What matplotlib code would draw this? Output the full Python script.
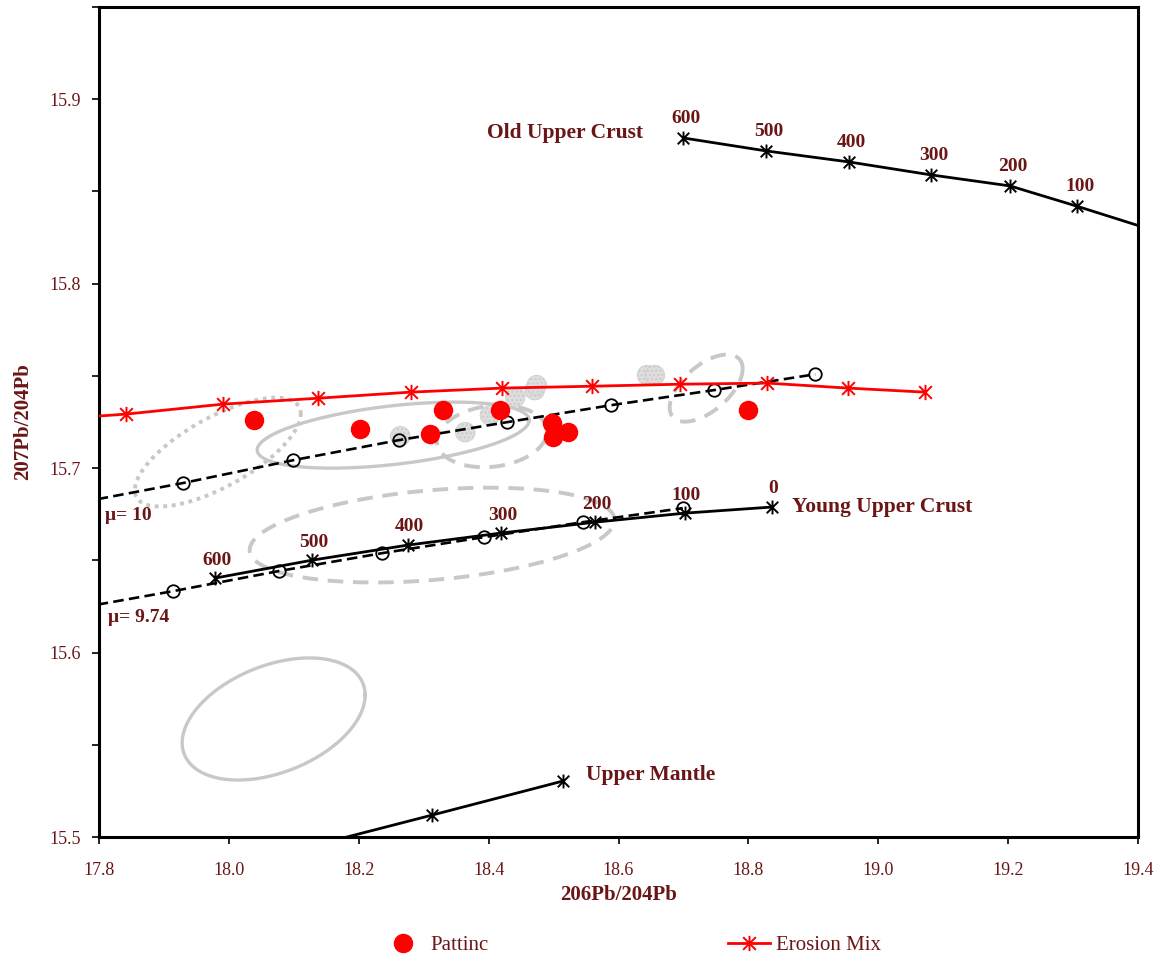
import numpy as np
import matplotlib.pyplot as plt
from matplotlib.path import Path

# Pb isotope data: 206Pb/204Pb (x) vs 207Pb/204Pb (y)
old_crust_x = [18.70, 18.827, 18.955, 19.081, 19.203, 19.306, 19.45]
old_crust_y = [15.879, 15.872, 15.866, 15.859, 15.853, 15.842, 15.826]
old_crust_age = ['600', '500', '400', '300', '200', '100']

young_crust_x = [17.979, 18.128, 18.276, 18.419, 18.564, 18.702, 18.836]
young_crust_y = [15.6404, 15.6501, 15.6583, 15.6648, 15.6707, 15.6756, 15.6789]
young_crust_age = ['600', '500', '400', '300', '200', '100', '0']

mantle_x = [18.11, 18.313, 18.515]
mantle_y = [15.4935, 15.5119, 15.5304]

mu10_x = [17.75, 17.929, 18.099, 18.262, 18.428, 18.588, 18.747, 18.903]
mu10_y = [15.6800, 15.6919, 15.7043, 15.7152, 15.7249, 15.7341, 15.7423, 15.7509]

mu974_x = [17.75, 17.914, 18.077, 18.236, 18.393, 18.545, 18.699]
mu974_y = [15.6230, 15.6333, 15.6442, 15.6539, 15.6626, 15.6707, 15.6783]

erosion_x = [17.75, 17.842, 17.991, 18.137, 18.280, 18.421, 18.559, 18.695, 18.829, 18.953, 19.072]
erosion_y = [15.7270, 15.7293, 15.7347, 15.7379, 15.7412, 15.7434, 15.7444, 15.7455, 15.7461, 15.7434, 15.7412]

pattinc_x = [18.039, 18.202, 18.310, 18.330, 18.418, 18.498, 18.499, 18.522, 18.799]
pattinc_y = [15.7260, 15.7211, 15.7184, 15.7314, 15.7314, 15.7244, 15.7168, 15.7195, 15.7314]

other_x = [18.264, 18.364, 18.402, 18.441, 18.471, 18.474, 18.644, 18.656]
other_y = [15.7173, 15.7195, 15.7287, 15.7385, 15.7423, 15.7450, 15.7504, 15.7504]

# fields: centre x, centre y, half-width x, half-height y, correlation, line style
field_cx = [18.253, 17.983, 18.313, 18.405, 18.735, 18.069]
field_cy = [15.7179, 15.7087, 15.6637, 15.7173, 15.7434, 15.5640]
field_rx = [0.2094, 0.1278, 0.2810, 0.0847, 0.0562, 0.1409]
field_ry = [0.0179, 0.0295, 0.0257, 0.0168, 0.0182, 0.0331]
field_rho = [0.45, 0.70, 0.315, 0.15, 0.575, 0.39]
field_ls = ['-', ':', '--', '--', '--', '-']

TXT = '#6b1616'
SERIF = 'Liberation Serif'
GRAY = '#c8c8c8'

plt.rcParams['font.family'] = SERIF

# asterisk marker: X plus a vertical bar
star = Path([(-1, -1), (1, 1), (-1, 1), (1, -1), (0, -1.2), (0, 1.2)],
            [Path.MOVETO, Path.LINETO, Path.MOVETO, Path.LINETO, Path.MOVETO, Path.LINETO])


def ellipse_xy(cx, cy, rx, ry, rho, n=300):
    t = np.linspace(0, 2 * np.pi, n)
    x = cx + rx * np.cos(t)
    y = cy + ry * (rho * np.cos(t) + np.sqrt(1 - rho ** 2) * np.sin(t))
    return x, y


fig = plt.figure(figsize=(11.59, 9.61), dpi=100)
ax = fig.add_axes([0.0854, 0.129, 0.8965, 0.8637])

for cx, cy, rx, ry, rho, ls in zip(field_cx, field_cy, field_rx, field_ry, field_rho, field_ls):
    ex, ey = ellipse_xy(cx, cy, rx, ry, rho)
    if ls == '--':
        ax.plot(ex, ey, color=GRAY, lw=2.8, dashes=(4, 2.5), zorder=1)
    elif ls == ':':
        ax.plot(ex, ey, color=GRAY, lw=2.8, dashes=(1, 1.2), zorder=1)
    else:
        ax.plot(ex, ey, color=GRAY, lw=2.4, zorder=1)

ax.scatter(other_x, other_y, s=200, facecolor='#dedede', edgecolor='#cbcbcb',
           hatch='....', lw=0.5, zorder=2)

# model curves
ax.plot(mu10_x, mu10_y, color='black', lw=1.9, dashes=(4, 2), marker='o', ms=9,
        mfc='none', mec='black', mew=1.3, zorder=3)
ax.plot(mu974_x, mu974_y, color='black', lw=1.9, dashes=(4, 2), marker='o', ms=9,
        mfc='none', mec='black', mew=1.3, zorder=3)
ax.plot(old_crust_x, old_crust_y, color='black', lw=2.0, marker=star, ms=10, mew=1.4, zorder=4)
ax.plot(young_crust_x, young_crust_y, color='black', lw=2.0, marker=star, ms=10, mew=1.4, zorder=4)
ax.plot(mantle_x, mantle_y, color='black', lw=2.0, marker=star, ms=10, mew=1.4, zorder=4)
ax.plot(erosion_x, erosion_y, color='#ff0000', lw=2.0, marker=star, ms=11, mew=1.4,
        zorder=4, label='Erosion Mix')

ax.plot(pattinc_x, pattinc_y, ls='none', marker='o', ms=13, color='#ff0000',
        mec='#ff0000', zorder=5, label='Pattinc')

for x, y, a in zip(old_crust_x, old_crust_y, old_crust_age):
    ax.annotate(a, (x, y), xytext=(2, 14), textcoords='offset points', ha='center',
                va='center', fontsize=14, fontweight='bold', color=TXT)
for x, y, a in zip(young_crust_x, young_crust_y, young_crust_age):
    ax.annotate(a, (x, y), xytext=(1, 13), textcoords='offset points', ha='center',
                va='center', fontsize=14, fontweight='bold', color=TXT)

lab = dict(fontsize=15.5, fontweight='bold', color=TXT)
ax.text(18.638, 15.8816, 'Old Upper Crust', ha='right', va='center', **lab)
ax.text(18.867, 15.6789, 'Young Upper Crust', ha='left', va='center', **lab)
ax.text(18.550, 15.5336, 'Upper Mantle', ha='left', va='center', **lab)
ax.text(17.809, 15.6745, 'μ= 10', ha='left', va='center', fontsize=14, fontweight='bold', color=TXT)
ax.text(17.814, 15.6192, 'μ= 9.74', ha='left', va='center', fontsize=14, fontweight='bold', color=TXT)

ax.set_xlim(17.8, 19.4)
ax.set_ylim(15.5, 15.95)
ax.set_xticks(np.arange(17.8, 19.41, 0.2))
ax.set_xticklabels(['17.8', '18.0', '18.2', '18.4', '18.6', '18.8', '19.0', '19.2', '19.4'])
ax.set_yticks(np.arange(15.5, 15.951, 0.05))
ax.set_yticklabels(['15.5', '', '15.6', '', '15.7', '', '15.8', '', '15.9', ''])
ax.tick_params(direction='out', length=5, width=1.2, labelsize=13, labelcolor=TXT, pad=13)
ax.tick_params(axis='y', pad=8)
for s in ax.spines.values():
    s.set_linewidth(2.2)

ax.set_xlabel('206Pb/204Pb', fontsize=15, fontweight='bold', color=TXT, labelpad=4)
ax.set_ylabel('207Pb/204Pb', fontsize=15, fontweight='bold', color=TXT, labelpad=12)

handles, labels = ax.get_legend_handles_labels()
fig.legend(handles[::-1], labels[::-1], loc='center', bbox_to_anchor=(0.545, 0.016), ncol=2,
           frameon=False, fontsize=15, labelcolor=TXT, columnspacing=11.5,
           handlelength=2.0, handletextpad=0.3)

fig.savefig('out.png', dpi=100)
